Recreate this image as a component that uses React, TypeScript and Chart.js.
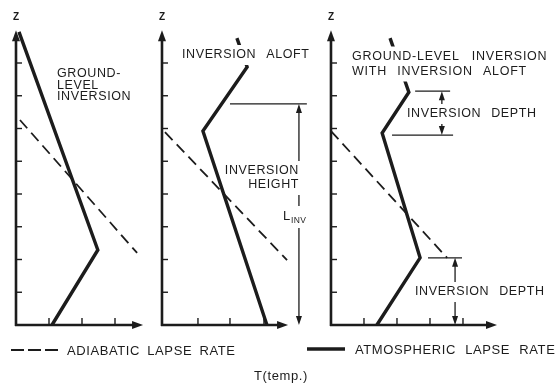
import React, { useEffect, useRef } from "react";
import { Chart, registerables } from "chart.js";

Chart.register(...registerables);

// ---------- data (local panel units: T along x, z along y) ----------
const panelOrigins = [0, 4.424, 9.545];

const p1AtmT = [1.09, 2.48, 0.09];
const p1AtmZ = [0, 2.29, 8.95];
const p1AdiT = [0.12, 3.67];
const p1AdiZ = [6.26, 2.2];

const p2AtmT = [3.18, 1.24, 2.58, 2.27];
const p2AtmZ = [0, 5.92, 7.88, 8.76];
const p2AdiT = [0.09, 3.79];
const p2AdiZ = [5.89, 1.98];

const p3AtmT = [1.39, 2.7, 1.55, 2.36, 1.79];
const p3AtmZ = [0, 2.05, 5.86, 7.11, 8.76];
const p3AdiT = [0, 3.52];
const p3AdiZ = [5.92, 2.05];

const zTicks = [1, 2, 3, 4, 5, 6, 7, 8];
const zAxisTop = 9.0;
const tTicksP1 = [1, 2, 3];
const tTicksP2 = [1.09, 2.06, 3.09];
const tTicksP3 = [1, 2, 3, 4];
const tAxisEnd = [3.85, 3.82, 5.03];

// dimension markers: [panel, tFrom, tTo, z]
const markerLines = [
  [1, 2.06, 4.39, 6.75],
  [2, 2.55, 3.61, 7.14],
  [2, 1.85, 3.7, 5.8],
  [2, 2.94, 3.97, 2.05],
];
// dimension arrows: [panel, t, zTop, zBottom]
const markerArrows = [
  [1, 4.15, 6.75, 0],
  [2, 3.36, 7.14, 5.8],
  [2, 3.76, 2.05, 0],
];

const INK = "#1c1c1c";
const FONT = "'Liberation Sans', Arial, sans-serif";

function pts(T: number[], Z: number[], off: number) {
  return T.map((t, i) => ({ x: t + off, y: Z[i] }));
}

type Lbl = { text: string; x: number; y: number; align?: CanvasTextAlign; size?: number; mask?: boolean; ls?: number; ws?: number };

const labels: Lbl[] = [
  { text: "GROUND-", x: 57, y: 74 },
  { text: "LEVEL", x: 57, y: 85.5 },
  { text: "INVERSION", x: 57, y: 97 },
  { text: "INVERSION ALOFT", x: 182, y: 55, mask: true, ws: 6 },
  { text: "INVERSION", x: 299, y: 171, align: "right", mask: true },
  { text: "HEIGHT", x: 299, y: 185, align: "right", mask: true },
  { text: "GROUND-LEVEL INVERSION", x: 352, y: 56.5, mask: true, ls: 0.75 },
  { text: "WITH INVERSION ALOFT", x: 352, y: 71.5, mask: true, ls: 0.75, ws: 6 },
  { text: "INVERSION DEPTH", x: 407, y: 114, mask: true, ws: 6 },
  { text: "INVERSION DEPTH", x: 415, y: 292, mask: true, ws: 6 },
];

function setFont(ctx: CanvasRenderingContext2D, size: number, ls: number, ws: number, weight = "normal") {
  ctx.font = `${weight} ${size}px ${FONT}`;
  (ctx as any).letterSpacing = `${ls}px`;
  (ctx as any).wordSpacing = `${ws}px`;
}

function arrowHead(ctx: CanvasRenderingContext2D, x: number, y: number, dir: string, len: number, half: number) {
  ctx.beginPath();
  if (dir === "up") {
    ctx.moveTo(x, y);
    ctx.lineTo(x - half, y + len);
    ctx.lineTo(x + half, y + len);
  } else if (dir === "down") {
    ctx.moveTo(x, y);
    ctx.lineTo(x - half, y - len);
    ctx.lineTo(x + half, y - len);
  } else {
    ctx.moveTo(x, y);
    ctx.lineTo(x - len, y - half);
    ctx.lineTo(x - len, y + half);
  }
  ctx.closePath();
  ctx.fill();
}

const diagramPlugin = {
  id: "diagram",
  beforeDraw(chart: any) {
    const ctx = chart.ctx;
    ctx.save();
    ctx.fillStyle = "#fff";
    ctx.fillRect(0, 0, chart.width, chart.height);
    ctx.restore();
  },
  afterDatasetsDraw(chart: any) {
    const ctx: CanvasRenderingContext2D = chart.ctx;
    const xs = chart.scales.x;
    const ys = chart.scales.y;
    const px = (v: number) => xs.getPixelForValue(v);
    const py = (v: number) => ys.getPixelForValue(v);
    ctx.save();
    ctx.strokeStyle = INK;
    ctx.fillStyle = INK;
    ctx.lineCap = "butt";
    const tickSets = [tTicksP1, tTicksP2, tTicksP3];
    panelOrigins.forEach((o, i) => {
      const ax = px(o);
      const base = py(0);
      // y axis
      ctx.lineWidth = 2.6;
      ctx.beginPath();
      ctx.moveTo(ax, base + 1);
      ctx.lineTo(ax, py(zAxisTop) + 8);
      ctx.stroke();
      arrowHead(ctx, ax, py(zAxisTop), "up", 11, 4);
      // x axis
      ctx.beginPath();
      ctx.moveTo(ax - 1, base);
      ctx.lineTo(px(o + tAxisEnd[i]) - 8, base);
      ctx.stroke();
      arrowHead(ctx, px(o + tAxisEnd[i]), base, "right", 11, 4);
      // ticks
      ctx.lineWidth = 1.4;
      zTicks.forEach((z) => {
        ctx.beginPath();
        ctx.moveTo(ax, py(z));
        ctx.lineTo(ax + 6, py(z));
        ctx.stroke();
      });
      tickSets[i].forEach((t) => {
        ctx.beginPath();
        ctx.moveTo(px(o + t), base);
        ctx.lineTo(px(o + t), base - 7);
        ctx.stroke();
      });
      // Z label
      setFont(ctx, 10, 0, 0, "bold");
      ctx.textAlign = "center";
      ctx.textBaseline = "middle";
      ctx.fillText("Z", ax, 17);
    });

    // dimension lines
    ctx.lineWidth = 1.3;
    markerLines.forEach(([p, t0, t1, z]) => {
      const o = panelOrigins[p];
      ctx.beginPath();
      ctx.moveTo(px(o + t0), py(z));
      ctx.lineTo(px(o + t1), py(z));
      ctx.stroke();
    });
    markerArrows.forEach(([p, t, z0, z1]) => {
      const o = panelOrigins[p];
      const x = px(o + t);
      ctx.lineWidth = 1.3;
      ctx.beginPath();
      ctx.moveTo(x, py(z0) + 4);
      ctx.lineTo(x, py(z1) - 4);
      ctx.stroke();
      arrowHead(ctx, x, py(z0), "up", 9, 3);
      arrowHead(ctx, x, py(z1), "down", 9, 3);
    });

    // labels with masks
    const drawMask = (l: Lbl) => {
      const size = l.size ?? 12.5;
      setFont(ctx, size, l.ls ?? 0.6, l.ws ?? 8);
      ctx.textAlign = l.align ?? "left";
      ctx.textBaseline = "middle";
      if (l.mask) {
        const w = ctx.measureText(l.text).width;
        const left = ctx.textAlign === "right" ? l.x - w : l.x;
        ctx.fillStyle = "#fff";
        ctx.fillRect(left - 3, l.y - 10, w + 6, 20);
        ctx.fillStyle = INK;
      }
    };
    labels.forEach(drawMask);
    // L_INV mask
    ctx.fillStyle = "#fff";
    ctx.fillRect(281, 206, 32, 22);
    ctx.fillStyle = INK;
    labels.forEach((l) => {
      setFont(ctx, l.size ?? 12.5, l.ls ?? 0.6, l.ws ?? 8);
      ctx.textAlign = l.align ?? "left";
      ctx.textBaseline = "middle";
      ctx.fillText(l.text, l.x, l.y);
    });
    setFont(ctx, 13, 0.3, 0);
    ctx.textAlign = "left";
    ctx.fillText("L", 283, 216);
    setFont(ctx, 8.5, 0.4, 0);
    ctx.fillText("INV", 291, 221);

    // legend
    ctx.lineWidth = 2.2;
    ctx.setLineDash([13, 4]);
    ctx.beginPath();
    ctx.moveTo(11, 350);
    ctx.lineTo(58, 350);
    ctx.stroke();
    ctx.setLineDash([]);
    ctx.lineWidth = 3.5;
    ctx.beginPath();
    ctx.moveTo(307, 349);
    ctx.lineTo(345, 349);
    ctx.stroke();
    setFont(ctx, 13, 0.6, 3);
    ctx.textAlign = "left";
    ctx.fillText("ADIABATIC LAPSE RATE", 67, 351);
    setFont(ctx, 13, 0.6, 5);
    ctx.fillText("ATMOSPHERIC LAPSE RATE", 355, 350);
    setFont(ctx, 13, 0.6, 0);
    ctx.textAlign = "center";
    ctx.fillText("T(temp.)", 281, 376);
    ctx.restore();
  },
};

export default function App() {
  const ref = useRef<HTMLCanvasElement | null>(null);
  useEffect(() => {
    if (!ref.current) return;
    const solid = (T: number[], Z: number[], p: number) => ({
      data: pts(T, Z, panelOrigins[p]),
      showLine: true,
      borderColor: INK,
      borderWidth: 3.4,
      borderJoinStyle: "miter" as const,
      pointRadius: 0,
      fill: false,
    });
    const dashed = (T: number[], Z: number[], p: number) => ({
      data: pts(T, Z, panelOrigins[p]),
      showLine: true,
      borderColor: INK,
      borderWidth: 1.8,
      borderDash: [11, 6],
      pointRadius: 0,
      fill: false,
    });
    const chart = new Chart(ref.current, {
      type: "scatter",
      data: {
        datasets: [
          dashed(p1AdiT, p1AdiZ, 0),
          solid(p1AtmT, p1AtmZ, 0),
          dashed(p2AdiT, p2AdiZ, 1),
          solid(p2AtmT, p2AtmZ, 1),
          dashed(p3AdiT, p3AdiZ, 2),
          solid(p3AtmT, p3AtmZ, 2),
        ] as any,
      },
      options: {
        responsive: false,
        animation: false,
        devicePixelRatio: 1,
        events: [],
        layout: { padding: 0 },
        plugins: { legend: { display: false }, tooltip: { enabled: false } },
        scales: {
          x: { type: "linear", min: -16 / 33, max: (559 - 16) / 33, display: false },
          y: { type: "linear", min: -61 / 32.75, max: 325 / 32.75, display: false },
        },
      },
      plugins: [diagramPlugin],
    });
    return () => chart.destroy();
  }, []);
  return (
    <div style={{ position: "absolute", left: 0, top: 0, width: 559, height: 386 }}>
      <canvas ref={ref} width={559} height={386} style={{ display: "block" }} />
    </div>
  );
}
